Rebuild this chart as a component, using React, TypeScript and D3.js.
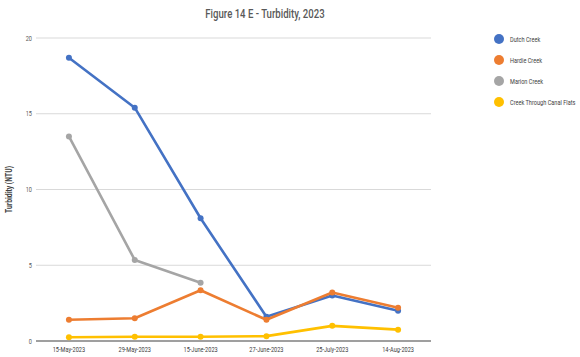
import React, { useEffect, useRef } from "react";
import * as d3 from "d3";

const dates = ["15-May-2023", "29-May-2023", "15-June-2023", "27-June-2023", "25-July-2023", "14-Aug-2023"];
const seriesNames = ["Dutch Creek", "Hardie Creek", "Marion Creek", "Creek Through Canal Flats"];
const seriesColors = ["#4472C4", "#ED7D31", "#A5A5A5", "#FFC000"];
const dutchCreek = [18.7, 15.4, 8.1, 1.6, 3.0, 2.0];
const hardieCreek = [1.4, 1.5, 3.35, 1.4, 3.2, 2.2];
const marionCreek = [13.5, 5.35, 3.85, null, null, null];
const canalFlats = [0.25, 0.28, 0.28, 0.32, 1.0, 0.75];
const yTicks = [0, 5, 10, 15, 20];

const W = 580;
const H = 357;
const FONT = "Roboto, 'Liberation Sans', sans-serif";
const SQUEEZE = 0.8; // narrow font look

type Sel = d3.Selection<SVGGElement | SVGSVGElement, unknown, null, undefined>;

// condensed text: placed with a transform so it can be squeezed horizontally
const addText = (
  parent: Sel,
  x: number,
  y: number,
  txt: string,
  size: number,
  anchor = "start",
  fill = "#404040",
  rotate = 0,
  weight = "normal"
) =>
  parent.append("text")
    .attr("transform", `translate(${x},${y}) rotate(${rotate}) scale(${SQUEEZE},1)`)
    .attr("text-anchor", anchor)
    .style("font-family", FONT)
    .style("font-size", `${size}px`)
    .style("font-weight", weight)
    .attr("fill", fill)
    .text(txt);

export default function App() {
  const svgRef = useRef<SVGSVGElement | null>(null);

  useEffect(() => {
    const svg = d3.select(svgRef.current) as unknown as Sel;
    svg.selectAll("*").remove();

    const left = 36, right = 431, top = 38, bottom = 341;
    const x = d3.scaleBand<string>().domain(dates).range([left, right]);
    const y = d3.scaleLinear().domain([0, 20]).range([bottom, top]);
    const cx = (d: string) => (x(d) ?? 0) + x.bandwidth() / 2;

    svg.append("rect").attr("width", W).attr("height", H).attr("fill", "#fff");

    // title
    addText(svg, 265, 18, "Figure 14 E - Turbidity, 2023", 12, "middle", "#595959", 0, "500");

    // gridlines + y labels
    const grid = svg.append("g");
    yTicks.forEach((t) => {
      grid.append("line")
        .attr("x1", left).attr("x2", right)
        .attr("y1", y(t)).attr("y2", y(t))
        .attr("stroke", t === 0 ? "#404040" : "#d9d9d9")
        .attr("stroke-width", t === 0 ? 1.2 : 1);
      addText(grid, left - 4, y(t) + 2.5, String(t), 7, "end", "#595959");
    });

    // x labels
    const xg = svg.append("g");
    dates.forEach((d) => addText(xg, cx(d), 352, d, 7, "middle", "#404040"));

    // y title
    addText(svg, 12, (top + bottom) / 2, "Turbidity (NTU)", 8.5, "middle", "#404040", -90, "bold");

    const allSeries = [dutchCreek, hardieCreek, marionCreek, canalFlats];
    const order = [3, 2, 0, 1];
    order.forEach((si) => {
      const vals = allSeries[si];
      const pts = vals.map((v, i) => ({ d: dates[i], v })).filter((p) => p.v !== null) as { d: string; v: number }[];
      const line = d3.line<{ d: string; v: number }>().x((p) => cx(p.d)).y((p) => y(p.v));
      svg.append("path")
        .attr("d", line(pts) ?? "")
        .attr("fill", "none")
        .attr("stroke", seriesColors[si])
        .attr("stroke-width", 2.6)
        .attr("stroke-linejoin", "round");
      svg.append("g").selectAll("circle")
        .data(pts).enter().append("circle")
        .attr("cx", (p) => cx(p.d)).attr("cy", (p) => y(p.v))
        .attr("r", 3)
        .attr("fill", seriesColors[si]);
    });

    // legend
    const lg = svg.append("g");
    seriesNames.forEach((name, i) => {
      const ly = 39 + i * 21;
      lg.append("circle").attr("cx", 499).attr("cy", ly).attr("r", 5).attr("fill", seriesColors[i]);
      addText(lg, 510, ly + 2.5, name, 7, "start", "#404040");
    });
  }, []);

  return (
    <div style={{ position: "fixed", left: 0, top: 0 }}>
      <svg ref={svgRef} width={W} height={H} style={{ display: "block" }}></svg>
    </div>
  );
}
